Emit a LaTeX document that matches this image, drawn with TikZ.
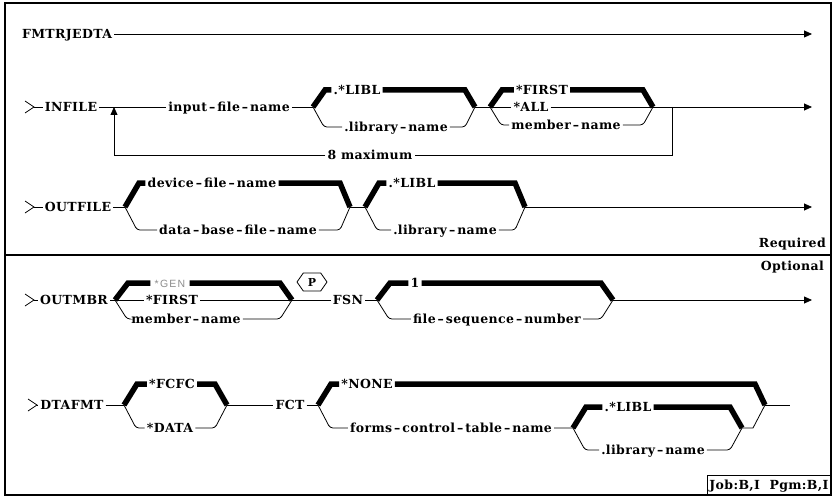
\documentclass[tikz,border=0pt]{standalone}
\usepackage{fontspec}
\setmainfont{DejaVu Serif}
\newfontfamily\railfont{DejaVu Serif}[LetterSpace=3]
\newfontfamily\genfont{Liberation Sans}[LetterSpace=12]
\usetikzlibrary{arrows.meta,shapes.symbols}
\newcommand{\hy}{\kern2pt\textendash\kern2pt}
\tikzset{
  rail/.style={line width=0.8pt},
  dflt/.style={line width=5.5pt},
  kw/.style={font=\railfont\bfseries\fontsize{12.5}{14}\selectfont, inner ysep=0pt, inner xsep=2pt, text height=9pt, text depth=0pt},
  tip/.style={-{Triangle[length=8pt,width=7pt]}},
}
\begin{document}
\begin{tikzpicture}[x=1pt,y=-1pt]
\useasboundingbox (0,0) rectangle (834,497);
\draw[line width=1.2pt] (5,3) rectangle (831,495);
\draw[line width=1.2pt] (5,255) -- (831,255);

% command name
\node[kw] (cmd) at (67,34) {FMTRJEDTA};
\coordinate (cmdend) at (812,34);
\draw[rail,tip] (cmd) -- (cmdend);

% INFILE
\coordinate (inA) at (34,107);
\node[kw] (infile) at (71,107) {INFILE};
\coordinate (rep) at (114,107);
\node[kw] (ifn) at (229,107) {input\hy file\hy name};
\coordinate (lbA) at (313,107);
\node[kw] (liblA) at (357,90) {.*LIBL};
\node[kw] (libnA) at (396,127) {.library\hy name};
\coordinate (rbA) at (475,107);
\coordinate (lbB) at (490,107);
\node[kw] (first) at (542,90) {*FIRST};
\node[kw] (all) at (531,107) {*ALL};
\node[kw] (mbr) at (566,125) {member\hy name};
\coordinate (rbB) at (653,107);
\coordinate (loopup) at (672,107);
\coordinate (loopdn) at (672,155);
\node[kw] (max) at (370,155) {8 maximum};
\coordinate (repdn) at (114,155);
\coordinate (inend) at (812,107);
\draw[rail] (inA) ++(-9,-6) -- (inA) -- ++(-9,6);
\draw[rail] (inA) -- (infile) -- (ifn) -- (lbA);
\draw[dflt] (lbA) -- ++(12,-17) -- (liblA) (liblA) -- ([shift={(-10,-17)}]rbA) -- (rbA);
\draw[rail,rounded corners=3pt] (lbA) -- ++(11,20) -- (libnA) -- ([shift={(-10,20)}]rbA) -- (rbA);
\draw[rail] (rbA) -- (lbB);
\draw[dflt] (lbB) -- ++(12,-17) -- (first) (first) -- ([shift={(-10,-17)}]rbB) -- (rbB);
\draw[rail] (lbB) -- (all) -- (rbB);
\draw[rail,rounded corners=3pt] (lbB) -- ++(11,18) -- (mbr) -- ([shift={(-10,18)}]rbB) -- (rbB);
\draw[rail,tip] (rbB) -- (inend);
\draw[rail] (loopup) -- (loopdn) -- (max) -- (repdn);
\draw[rail,tip] (repdn) -- (rep);

% OUTFILE
\coordinate (outA) at (34,207);
\node[kw] (outfile) at (78,207) {OUTFILE};
\coordinate (lbC) at (125,207);
\node[kw] (dev) at (212,183) {device\hy file\hy name};
\node[kw] (dbf) at (238,230) {data\hy base\hy file\hy name};
\coordinate (rbC) at (350,207);
\coordinate (lbD) at (365,207);
\node[kw] (liblD) at (412,183) {.*LIBL};
\node[kw] (libnD) at (445,230) {.library\hy name};
\coordinate (rbD) at (525,207);
\coordinate (outend) at (812,207);
\draw[rail] (outA) ++(-9,-6) -- (outA) -- ++(-9,6);
\draw[rail] (outA) -- (outfile) -- (lbC);
\draw[dflt] (lbC) -- ++(14,-24) -- (dev) (dev) -- ([shift={(-10,-24)}]rbC) -- (rbC);
\draw[rail,rounded corners=3pt] (lbC) -- ++(12,23) -- (dbf) -- ([shift={(-10,23)}]rbC) -- (rbC);
\draw[rail] (rbC) -- (lbD);
\draw[dflt] (lbD) -- ++(14,-24) -- (liblD) (liblD) -- ([shift={(-10,-24)}]rbD) -- (rbD);
\draw[rail,rounded corners=3pt] (lbD) -- ++(12,23) -- (libnD) -- ([shift={(-10,23)}]rbD) -- (rbD);
\draw[rail,tip] (rbD) -- (outend);

\node[kw,anchor=east] (req) at (828,243) {Required};
\node[kw,anchor=east] (opt) at (826,266) {Optional};

% OUTMBR
\coordinate (mbA) at (34,300);
\node[kw] (outmbr) at (74,300) {OUTMBR};
\coordinate (lbE) at (115,300);
\node[kw,font=\genfont\fontsize{10.5}{12}\selectfont,text=black!45,inner xsep=4pt] (gen) at (170,283) {*GEN};
\node[kw] (firstE) at (172,300) {*FIRST};
\node[kw] (mbrE) at (186,319) {member\hy name};
\coordinate (rbE) at (292,300);
\node[draw,rail,signal,signal to=east and west,signal pointer angle=110,minimum width=30pt,minimum height=18pt,inner sep=1pt,font=\railfont\bfseries\fontsize{11}{12}\selectfont] (pmark) at (312,282) {P};
\node[kw] (fsn) at (348,300) {FSN};
\coordinate (lbF) at (377,300);
\node[kw] (one) at (415,283) {1};
\node[kw] (fsq) at (497,319) {file\hy sequence\hy number};
\coordinate (rbF) at (613,300);
\coordinate (mbend) at (812,300);
\draw[rail] (mbA) ++(-9,-6) -- (mbA) -- ++(-9,6);
\draw[rail] (mbA) -- (outmbr) -- (lbE);
\draw[dflt] (lbE) -- ++(13,-17) -- (gen) (gen) -- ([shift={(-12,-17)}]rbE) -- (rbE);
\draw[rail] (lbE) -- (firstE) -- (rbE);
\draw[rail,rounded corners=3pt] (lbE) -- ++(12,19) -- (mbrE) -- ([shift={(-12,19)}]rbE) -- (rbE);
\draw[rail] (rbE) -- (fsn) -- (lbF);
\draw[dflt] (lbF) -- ++(13,-17) -- (one) (one) -- ([shift={(-12,-17)}]rbF) -- (rbF);
\draw[rail,rounded corners=3pt] (lbF) -- ++(12,19) -- (fsq) -- ([shift={(-12,19)}]rbF) -- (rbF);
\draw[rail,tip] (rbF) -- (mbend);

% DTAFMT
\coordinate (dtA) at (37,405);
\node[kw] (dtafmt) at (72,405) {DTAFMT};
\coordinate (lbG) at (124,405);
\node[kw] (fcfc) at (172,384) {*FCFC};
\node[kw] (data) at (170,428) {*DATA};
\coordinate (rbG) at (227,405);
\node[kw] (fct) at (290,405) {FCT};
\coordinate (lbH) at (318,405);
\node[kw] (none) at (367,384) {*NONE};
\node[kw] (fctn) at (451,428) {forms\hy control\hy table\hy name};
\coordinate (rbH) at (765,405);
\coordinate (lbI) at (573,428);
\node[kw] (liblI) at (628,407) {.*LIBL};
\node[kw] (libnI) at (653,450) {.library\hy name};
\coordinate (rbI) at (742,428);
\coordinate (dtend) at (790,405);
\draw[rail] (dtA) ++(-9,-6) -- (dtA) -- ++(-9,6);
\draw[rail] (dtA) -- (dtafmt) -- (lbG);
\draw[dflt] (lbG) -- ++(13,-21) -- (fcfc) (fcfc) -- ([shift={(-12,-21)}]rbG) -- (rbG);
\draw[rail,rounded corners=3pt] (lbG) -- ++(12,23) -- (data) -- ([shift={(-12,23)}]rbG) -- (rbG);
\draw[rail] (rbG) -- (fct) -- (lbH);
\draw[dflt] (lbH) -- ++(13,-21) -- (none) (none) -- ([shift={(-10,-21)}]rbH) -- (rbH);
\draw[rail,rounded corners=3pt] (lbH) -- ++(12,23) -- (fctn) -- (lbI);
\draw[dflt] (lbI) -- ++(13,-21) -- (liblI) (liblI) -- ([shift={(-12,-21)}]rbI) -- (rbI);
\draw[rail,rounded corners=3pt] (lbI) -- ++(12,22) -- (libnI) -- ([shift={(-12,22)}]rbI) -- (rbI);
\draw[rail] (rbI) -- ([shift={(-12,23)}]rbH) -- (rbH);
\draw[rail] (rbH) -- (dtend);

\node[draw,line width=1pt,kw,anchor=south east,minimum width=120pt,minimum height=19pt] (job) at (831,495) {Job:B,I\ \ Pgm:B,I};
\end{tikzpicture}
\end{document}
